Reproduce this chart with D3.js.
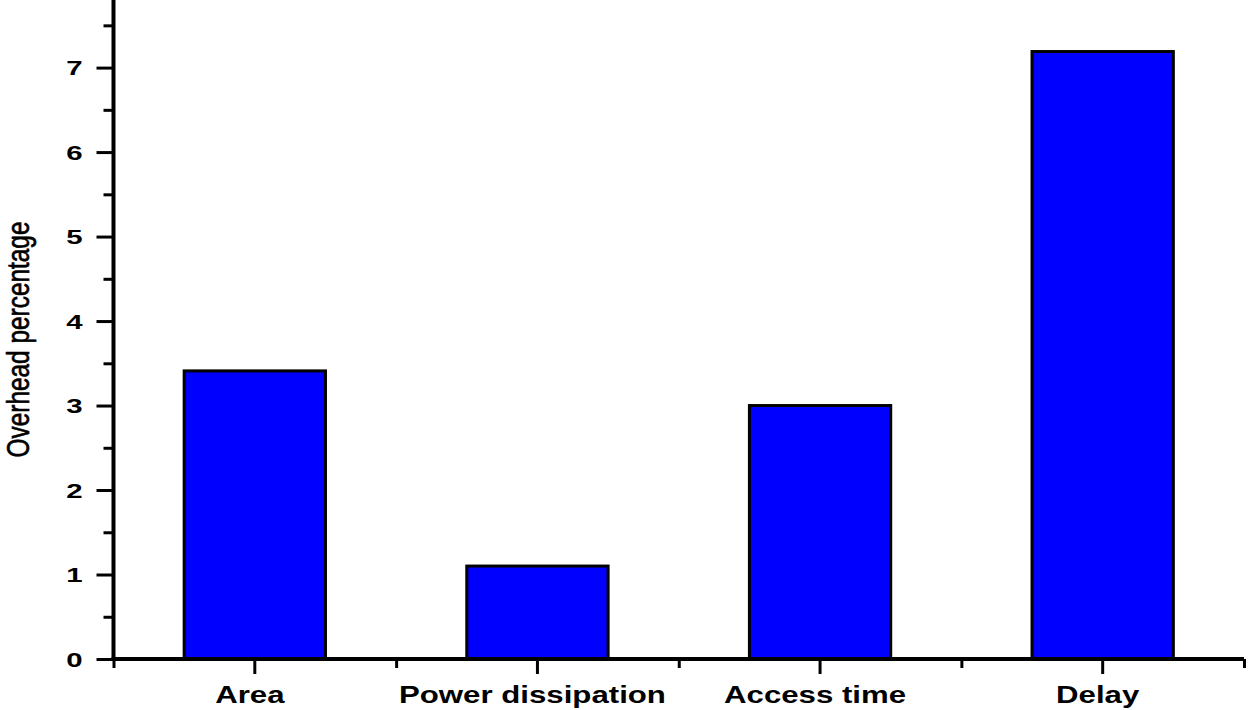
<!DOCTYPE html>
<html>
<head>
<meta charset="utf-8">
<script src="https://cdn.jsdelivr.net/npm/d3@7"></script>
<style>
  html, body { margin: 0; padding: 0; background: #fff; }
  svg { display: block; }
  text { font-family: "Liberation Sans", Arial, sans-serif; fill: #000; }
</style>
</head>
<body>
<svg id="chart" width="1250" height="710"></svg>
<script>
const categories = ["Area", "Power dissipation", "Access time", "Delay"];
const values = [3.41, 1.10, 3.00, 7.19];
const yTickValues = [0, 1, 2, 3, 4, 5, 6, 7];
const yMinorTickValues = [0.5, 1.5, 2.5, 3.5, 4.5, 5.5, 6.5, 7.5];
const yLabel = "Overhead percentage";

const svg = d3.select("#chart");
const mLeft = 113.5, mRight = 1244, mTop = 0, mBottom = 659;

const x = d3.scaleBand().domain(categories).range([mLeft, mRight])
  .paddingInner(0.5).paddingOuter(0.25);
const y = d3.scaleLinear().domain([0, 7.8]).range([mBottom, mTop]);

// bars
svg.append("g").selectAll("rect").data(values).join("rect")
  .attr("x", (d, i) => x(categories[i]))
  .attr("y", d => y(d))
  .attr("width", x.bandwidth())
  .attr("height", d => y(0) - y(d))
  .attr("fill", "#0000ff")
  .attr("stroke", "#000")
  .attr("stroke-width", 3);

// y axis minor
const yMinor = svg.append("g").attr("transform", `translate(${mLeft},0)`)
  .call(d3.axisLeft(y).tickValues(yMinorTickValues).tickSize(10).tickFormat(""));
// y axis major
const yAxis = svg.append("g").attr("transform", `translate(${mLeft},0)`)
  .call(d3.axisLeft(y).tickValues(yTickValues).tickSize(17).tickPadding(0).tickFormat(d3.format("d")));
[yMinor, yAxis].forEach(g => {
  g.select(".domain").remove();
  g.selectAll(".tick line").attr("stroke", "#000").attr("stroke-width", 3);
});
yAxis.selectAll(".tick text")
  .attr("x", null).attr("dy", null)
  .attr("dominant-baseline", "central")
  .attr("text-anchor", "end")
  .attr("transform", `translate(-31,0) scale(1.4,1)`)
  .style("font-size", "21px").style("font-weight", "bold")
  .style("font-family", '"Liberation Sans", Arial, sans-serif')
  .attr("fill", "#000");

// x axis: major ticks at category centres, minor at boundaries
const boundaries = [x.range()[0]].concat(categories.map(c => x(c) + x.bandwidth() / 2 + x.step() / 2));
const xPos = d3.scaleIdentity();
const xMinor = svg.append("g").attr("transform", `translate(0,${mBottom})`)
  .call(d3.axisBottom(xPos).tickValues(boundaries).tickSize(9).tickFormat(""));
const xAxis = svg.append("g").attr("transform", `translate(0,${mBottom})`)
  .call(d3.axisBottom(x).tickSize(15).tickPadding(0));
[xMinor, xAxis].forEach(g => {
  g.select(".domain").remove();
  g.selectAll(".tick line").attr("stroke", "#000").attr("stroke-width", 3);
});
xAxis.selectAll(".tick text")
  .attr("y", null).attr("dy", null)
  .attr("text-anchor", "middle")
  .attr("transform", `translate(-5,43.5) scale(1.3,1)`)
  .style("font-size", "24px").style("font-weight", "bold")
  .style("font-family", '"Liberation Sans", Arial, sans-serif')
  .attr("fill", "#000");

// axis lines
svg.append("line").attr("x1", mLeft).attr("x2", mLeft).attr("y1", 0).attr("y2", mBottom + 2)
  .attr("stroke", "#000").attr("stroke-width", 4);
svg.append("line").attr("x1", mLeft - 2).attr("x2", mRight).attr("y1", mBottom).attr("y2", mBottom)
  .attr("stroke", "#000").attr("stroke-width", 4);

// y label
svg.append("text")
  .attr("transform", `translate(28.5,${(y(0) + y(7.8)) / 2 + 10}) rotate(-90) scale(1,1.25)`)
  .attr("text-anchor", "middle")
  .style("font-size", "24.4px")
  .attr("stroke", "#000").attr("stroke-width", 0.5)
  .text(yLabel);
</script>
</body>
</html>
